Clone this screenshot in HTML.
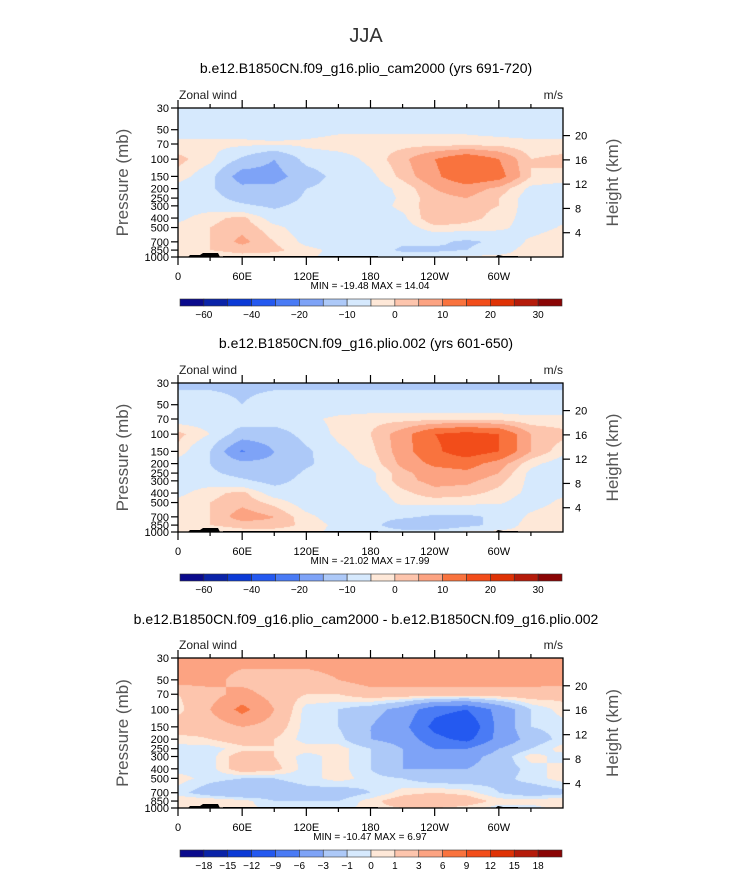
<!DOCTYPE html>
<html><head><meta charset="utf-8">
<style>
body{margin:0;background:#fff;}
#wrap{position:relative;width:733px;height:888px;overflow:hidden;font-family:"Liberation Sans",sans-serif;}
svg{position:absolute;left:0;top:0;}
canvas{position:absolute;}
</style></head>
<body>
<div id="wrap">
<canvas id="c0" width="385" height="149" style="left:178px;top:108px"></canvas>
<canvas id="c1" width="385" height="149" style="left:178px;top:383px"></canvas>
<canvas id="c2" width="385" height="150" style="left:178px;top:658px"></canvas>
<svg id="s" width="733" height="888"></svg>
</div>
<script>
const lons=[0,30,60,90,120,150,180,210,240,270,300,330,360];
const levels=[30,50,70,100,150,200,250,300,400,500,700,850,1000];
const colors=["#0a0a8c","#0a23a8","#0b3ad6","#2459f0","#4a7bf5","#7ea3f7","#adc9f8","#d6e9fd","#fee8d8","#fdc5ad","#fca382","#f9733e","#f24d1a","#df3205","#b51b0a","#8a0505"];
const bounds12=[-60,-50,-40,-30,-20,-12,-5,0,3,6,10,15,20,25,30];
const boundsDiff=[-18,-15,-12,-9,-6,-3,-1,0,1,3,6,9,12,15,18];
const labels12=["-60","","-40","","-20","","-10","","0","","10","","20","","30"];
const labelsDiff=["-18","-15","-12","-9","-6","-3","-1","0","1","3","6","9","12","15","18"];
const xLabels=["0","60E","120E","180","120W","60W"];
const pLabels=[30,50,70,100,150,200,250,300,400,500,700,850,1000];
const hLabels=[4,8,12,16,20];
const u1=[
[-3,-3,-3,-3,-3,-3,-3,-3,-3,-3,-3,-3,-3],
[-2,-2,-2,-2,-2,-1,-1,-1,-1,-1,-2,-2,-2],
[1,1,1,0.5,1,2,2,2,2,2,2,1,1],
[4,1,-6,-12,-3,-2,1,5,10,14,10,3,4],
[2,-3,-16,-15,-8,-3,-1,4,9,14,12,3,2],
[-2,-4,-10,-10,-5,-3,-2,1,6,8,5,-1,-2],
[-3,-3,-7,-9,-4,-3,-2,0.5,5,6,3,-2,-3],
[-2,-2,-4,-6,-3,-3,-2,1,5,4,3,-2,-2],
[-1,2,4,-2,-3,-3,-2,-1,6,4,2,-2,-1],
[1,3,5,1,-2,-3,-3,-2,2,2,1,-2,0.5],
[2,3,7,3,-1,-2,-3,-4,-4,-6,-4,1,3],
[1,3,4,4,1,-1,-2,-6,-6,-5,-2,2,2],
[1,1,2,1,0.5,-1,-1,-2,-2,1,1,1,1]];
const u2=[
[-6,-6,-6,-6,-6,-6,-6,-6,-6,-6,-6,-6,-6],
[-3,-3,-5,-3,-3,-3,-3,-3,-3,-3,-3,-3,-3],
[-2,-2,-2,-2,-1,1,2,2,2,2,2,1,1],
[4,0,-8,-8,-3,1,3,8,15,17,15,6,4],
[2,-5,-21,-12,-6,-1,2,8,14,18,15,6,1],
[-2,-5,-10,-10,-6,-2,1,7,11,12,8,1,-2],
[-3,-4,-7,-9,-4,-3,-1,5,8,9,6,-1,-3],
[-2,-2,-4,-7,-3,-3,-1,5,7,7,4,-1,-2],
[-1,2,4,-2,-3,-3,-2,2,5,4,2,-1,-1],
[1,3,5,2,-2,-3,-3,1,1,1,0.5,-2,1],
[2,3,8,6,1,-2,-3,-4,-6,-6,-4,1,3],
[1,3,4,5,2,-1,-3,-9,-10,-7,-3,2,2],
[1,1,2,1,1,-1,-2,-3,-3,1,1,1,1]];
const u3=[
[4,4,4,4,4,4,4,4,4,4,4,4,4],
[4,4,2,2,2,3,4,4,4,4,4,4,4],
[1,2,4,2,1,1,2,2,2,2,2,2,1.5],
[0.5,3,7,3,-0.5,-1,-2,-4,-8,-9,-5,-1,0.5],
[2,1.5,3,2,-0.5,-1,-3,-5,-10,-12,-5,-1,-0.5],
[0.5,1,2,1,-0.5,-0.5,-3,-4,-8,-10,-5,-2,-0.5],
[-0.5,-0.5,0.5,1,0.5,0.5,-1,-3,-6,-6,-3,-1,0.5],
[-0.5,-0.5,2,1,-0.5,0.5,-1,-3,-5,-4,-2,0.5,-0.5],
[-0.5,-0.5,2,1.5,-0.5,0.5,-1,-3,-3,-3,-2,-0.5,0.5],
[0.5,-0.5,-1,-1,-0.5,0.5,-0.5,-1,-2,-2,-1.5,-0.5,0.5],
[-0.5,-2,-3,-2,-1.5,-2,-1,0.5,1,0.5,-1,-2,-1.5],
[1,1,0.5,-1,-1,-1,0.5,2,3,2,0.5,0.5,1],
[0.5,0.5,0.5,-0.5,-0.5,-0.5,0.5,1,1,0.5,-0.5,-0.5,0.5]];

const W=385,L=178;
const LP=levels.map(p=>Math.log(p));
function yOf(p,top,H){return top+H*(Math.log(p/30))/Math.log(1000/30);}
function xOf(lon){return L+W*lon/360;}
function hex(c){return [parseInt(c.slice(1,3),16),parseInt(c.slice(3,5),16),parseInt(c.slice(5,7),16)];}
const rgb=colors.map(hex);
function sample(g,lon,lp){
  let i=Math.min(11,Math.floor(lon/30)),fx=(lon-lons[i])/30;
  let j=0;while(j<11&&lp>LP[j+1])j++;
  let fy=(lp-LP[j])/(LP[j+1]-LP[j]);fy=Math.max(0,Math.min(1,fy));
  const a=g[j][i]*(1-fx)+g[j][i+1]*fx,b=g[j+1][i]*(1-fx)+g[j+1][i+1]*fx;
  return a*(1-fy)+b*fy;
}
function paint(id,g,b){
  const cv=document.getElementById(id),ctx=cv.getContext('2d'),H=cv.height;
  const im=ctx.createImageData(W,H);
  for(let y=0;y<H;y++){const lp=Math.log(30)+(y+0.5)/H*Math.log(1000/30);
    for(let x=0;x<W;x++){const v=sample(g,(x+0.5)/W*360,lp);
      let k=0;while(k<b.length&&v>=b[k])k++;const c=rgb[k],o=(y*W+x)*4;
      im.data[o]=c[0];im.data[o+1]=c[1];im.data[o+2]=c[2];im.data[o+3]=255;}}
  ctx.putImageData(im,0,0);
}
paint('c0',u1,bounds12);paint('c1',u2,bounds12);paint('c2',u3,boundsDiff);

const S=document.getElementById('s');const NS="http://www.w3.org/2000/svg";
function el(t,a,txt){const e=document.createElementNS(NS,t);for(const k in a)e.setAttribute(k,a[k]);if(txt!==undefined)e.textContent=txt;S.appendChild(e);return e;}
let e=el('text',{x:366,y:42,'text-anchor':'middle','font-size':20,fill:'#333'},'JJA');


const panels=[
 {top:108,H:149,title:"b.e12.B1850CN.f09_g16.plio_cam2000 (yrs 691-720)",ty:73,mm:"MIN = -19.48   MAX =  14.04",cb:299,lab:labels12},
 {top:383,H:149,title:"b.e12.B1850CN.f09_g16.plio.002 (yrs 601-650)",ty:348,mm:"MIN = -21.02   MAX =  17.99",cb:574,lab:labels12},
 {top:658,H:150,title:"b.e12.B1850CN.f09_g16.plio_cam2000 - b.e12.B1850CN.f09_g16.plio.002",ty:624,mm:"MIN = -10.47   MAX =   6.97",cb:850,lab:labelsDiff}];
panels.forEach((P,n)=>{
  const T=P.top,B=T+P.H,R=L+W;
  e=el('text',{x:366,y:P.ty,'text-anchor':'middle','font-size':14,fill:'#000'},P.title);
  
  
  e=el('text',{x:179,y:T-9,'font-size':12,fill:'#222'},'Zonal wind');
  
  
  e=el('text',{x:563,y:T-9,'text-anchor':'end','font-size':12,fill:'#222'},'m/s');
  
  
  e=el('path',{d:`M${L+10} ${B} L${L+12} ${B-2} L${L+22} ${B-2} L${L+25} ${B-4} L${L+40} ${B-4} L${L+42} ${B} Z M${L+45} ${B-1}H${L+200}V${B}H${L+45}Z M${L+317} ${B} L${L+320} ${B-2} L${L+325} ${B-1} L${L+340} ${B-1} L${L+340} ${B}Z`,fill:'#000'});
  
  
  e=el('rect',{x:L,y:T,width:W,height:P.H,fill:'none',stroke:'#000','stroke-width':1.3});
  
  
  for(let lon=0;lon<360;lon+=30){const x=xOf(lon),len=lon%60?4:8;
    el('line',{x1:x,x2:x,y1:T,y2:T-len,stroke:'#000','stroke-width':1.2});
    el('line',{x1:x,x2:x,y1:B,y2:B+len,stroke:'#000','stroke-width':1.2});}
  xLabels.forEach((t,i)=>{e=el('text',{x:xOf(i*60),y:B+23,'text-anchor':'middle','font-size':11,fill:'#000'},t);
    
    });
  pLabels.forEach(p=>{const y=yOf(p,T,P.H);el('line',{x1:L,x2:L-7,y1:y,y2:y,stroke:'#000','stroke-width':1.2});
    e=el('text',{x:L-9,y:y+4,'text-anchor':'end','font-size':11,fill:'#000'},String(p));
    
    });
  hLabels.forEach(h=>{const y=yOf(1000*Math.exp(-h/7),T,P.H);el('line',{x1:R,x2:R+7,y1:y,y2:y,stroke:'#000','stroke-width':1.2});
    e=el('text',{x:R+12,y:y+4,'font-size':11,fill:'#000'},String(h));
    
    });
  const cy=(T+B)/2;
  e=el('text',{x:128,y:cy,'text-anchor':'middle','font-size':17,fill:'#555',transform:`rotate(-90 128 ${cy})`},'Pressure (mb)');
  
  
  e=el('text',{x:618,y:cy,'text-anchor':'middle','font-size':17,fill:'#555',transform:`rotate(-90 618 ${cy})`},'Height (km)');
  
  
  e=el('text',{x:370,y:B+32,'text-anchor':'middle','font-size':10,fill:'#000','xml:space':'preserve'},P.mm);
  
  
  const bw=(562-180)/16;
  colors.forEach((c,i)=>{e=el('rect',{x:180+i*bw,y:P.cb,width:bw,height:7,fill:c,stroke:'#333','stroke-width':0.6});
    
    });
  P.lab.forEach((t,i)=>{if(!t)return;e=el('text',{x:180+(i+1)*bw,y:P.cb+19,'text-anchor':'middle','font-size':10,fill:'#000'},t.replace('-','\u2212'));
    
    });
});
</script>
</body></html>
